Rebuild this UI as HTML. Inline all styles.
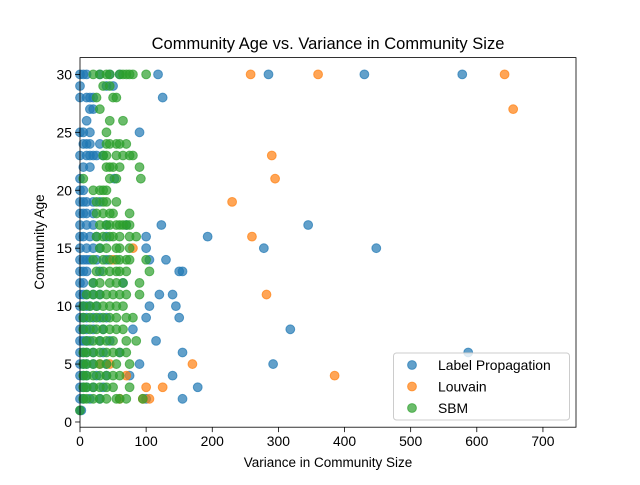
<!DOCTYPE html>
<html><head><meta charset="utf-8"><style>
body{margin:0;background:#fff}
svg{font-family:"Liberation Sans","DejaVu Sans",sans-serif}
</style></head><body>
<svg id="c" width="640" height="480" viewBox="0 0 640 480" xmlns="http://www.w3.org/2000/svg">
<rect width="640" height="480" fill="#fff"/>
<text x="328" y="49" text-anchor="middle" font-size="16.5">Community Age vs. Variance in Community Size</text>
<text x="328" y="467" text-anchor="middle" font-size="13.5">Variance in Community Size</text>
<text transform="translate(44,242) rotate(-90)" text-anchor="middle" font-size="13.5">Community Age</text>
<g id="marks"></g>
<g id="axes"></g>
</svg>
<script>
const xTicks=[0,100,200,300,400,500,600,700];
const yTicks=[0,5,10,15,20,25,30];
const lpRows=[[30,[0,5,10,30,45,60,118,285,430,578]],[29,[0,40,50]],[28,[0,10,15,20,125]],[27,[15,20]],[26,[10]],[25,[0,5,15,90]],[24,[5,10,15,30]],[23,[0,10,15,20,25,35]],[22,[5,15]],[21,[0,52]],[20,[0,5]],[19,[0,5,10,20,30]],[18,[0,5,10,20]],[17,[0,10,20,40,70,123,345]],[16,[0,5,15,25,40,100,193]],[15,[0,10,20,30,100,278,448]],[14,[0,5,10,15,25,40,105,130]],[13,[0,5,10,30,150,155]],[12,[0,5,20,65]],[11,[0,5,10,20,30,120,140]],[10,[0,5,10,15,25,105,145]],[9,[0,5,10,20,30,40,100,150]],[8,[0,5,10,20,35,80,318]],[7,[0,5,10,15,30,45,115]],[6,[0,5,10,20,35,60,155,587]],[5,[0,5,10,20,40,90,292]],[4,[0,5,10,25,40,75,140]],[3,[0,5,10,20,35,178]],[2,[0,5,15,30,100,155]],[1,[0,2]]];
const louvainRows=[[30,[258,360,642]],[27,[655]],[23,[290]],[21,[295]],[19,[230]],[16,[260]],[15,[80]],[14,[50]],[11,[282]],[5,[30,45,170]],[4,[70,385]],[3,[100,125]],[2,[60,95,105]]];
const sbmRows=[[30,[20,30,40,45,60,65,70,75,80,100]],[29,[35,45]],[28,[25,50,55]],[27,[30]],[26,[45,65]],[25,[40]],[24,[40,45,55,60,70]],[23,[35,40,55,65,75,80]],[22,[40,45,50,60,90]],[21,[5,45,55,92]],[20,[20,30,35,40]],[19,[25,35,40,55]],[18,[25,35,45,50,75]],[17,[30,40,45,55,60,65,70,75]],[16,[25,35,45,50,60,75,85]],[15,[30,40,55,60,75]],[14,[20,35,45,55,60,70,75,100]],[13,[25,35,45,55,60,70,105]],[12,[20,30,45,55,65,90]],[11,[10,20,30,40,50,60,70,90]],[10,[5,15,25,35,45,55,65]],[9,[5,15,25,35,45,55,70,80]],[8,[5,15,25,35,45,55,65]],[7,[10,20,30,40,50,70,85]],[6,[5,10,20,30,40,50,60,70]],[5,[5,10,20,30,40,55,75]],[4,[5,10,20,30,40,50,60]],[3,[5,10,20,30,40,50,75]],[2,[5,10,20,30,40,55,60,70,95]],[1,[0]]];
const seriesNames=["Label Propagation","Louvain","SBM"];
const colors=["#1f77b4","#ff7f0e","#2ca02c"];
const L=80,R=576,T=57.6,B=427.2,xmin=0,xmax=750,ymin=-0.45,ymax=31.45;
const sx=v=>L+(v-xmin)/(xmax-xmin)*(R-L);
const sy=v=>B-(v-ymin)/(ymax-ymin)*(B-T);
const NS="http://www.w3.org/2000/svg";
const marks=document.getElementById('marks'),axes=document.getElementById('axes');
function mk(t,a,p){const e=document.createElementNS(NS,t);for(const k in a)e.setAttribute(k,a[k]);p.appendChild(e);return e;}
[lpRows,louvainRows,sbmRows].forEach((rows,si)=>{
  const g=mk('g',{},marks);
  
  
  rows.forEach(([age,xs])=>xs.forEach(x=>{
    const c=mk('circle',{cx:sx(x),cy:sy(age),r:4.4,fill:colors[si],'fill-opacity':0.7,stroke:colors[si],'stroke-opacity':0.7,'stroke-width':1},g);
    
    
  }));
});
const frame=mk('rect',{x:L,y:T,width:R-L,height:B-T,fill:'none',stroke:'#000','stroke-width':0.8},axes);


xTicks.forEach(v=>{
  mk('line',{x1:sx(v),x2:sx(v),y1:B,y2:B+4.9,stroke:'#000','stroke-width':0.8},axes);
  const t=mk('text',{x:sx(v),y:B+19,'text-anchor':'middle','font-size':13.9},axes);
  t.textContent=v;
  
  
});
yTicks.forEach(v=>{
  mk('line',{x1:L-4.9,x2:L,y1:sy(v),y2:sy(v),stroke:'#000','stroke-width':0.8},axes);
  const t=mk('text',{x:L-8,y:sy(v)+5,'text-anchor':'end','font-size':13.9},axes);
  t.textContent=v;
  
  
});
const lg=mk('g',{},axes);


mk('rect',{x:393.5,y:353,width:176,height:67,rx:3,fill:'#fff','fill-opacity':0.8,stroke:'#ccc','stroke-width':1},lg);
seriesNames.forEach((n,i)=>{
  const y=365+i*21.5;
  mk('circle',{cx:412,cy:y,r:4.4,fill:colors[i],'fill-opacity':0.7,stroke:colors[i],'stroke-opacity':0.7,'stroke-width':1},lg);
  const t=mk('text',{x:438,y:y+5,'font-size':13.9},lg);
  t.textContent=n;
  
  
});
</script>
</body></html>
